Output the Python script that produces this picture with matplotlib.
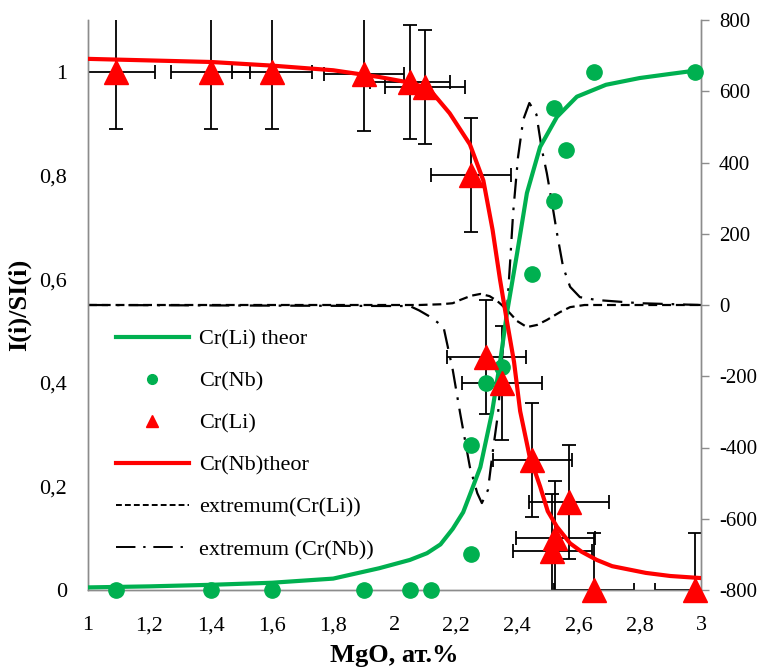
import matplotlib
matplotlib.use("Agg")
import matplotlib.pyplot as plt
from matplotlib.lines import Line2D
from matplotlib.ticker import FuncFormatter, MultipleLocator

plt.rcParams['font.family'] = ['Liberation Serif', 'DejaVu Serif']
plt.rcParams['axes.unicode_minus'] = False

# ---- data ----
# experimental points, Cr(Li) (red triangles) with error bars
x_li = [1.09, 1.40, 1.60, 1.90, 2.05, 2.10, 2.25, 2.30, 2.35, 2.45, 2.57, 2.525, 2.515, 2.65, 2.98]
y_li = [1.00, 1.00, 1.00, 0.995, 0.98, 0.97, 0.80, 0.45, 0.40, 0.25, 0.17, 0.10, 0.075, 0.0, 0.0]
xerr_li = 0.13
yerr_li = 0.11

# experimental points, Cr(Nb) (green circles)
x_nb = [1.09, 1.40, 1.60, 1.90, 2.05, 2.12, 2.25, 2.25, 2.30, 2.35, 2.45, 2.52, 2.56, 2.52, 2.65, 2.98]
y_nb = [0, 0, 0, 0, 0, 0, 0.07, 0.28, 0.40, 0.43, 0.61, 0.75, 0.85, 0.93, 1.0, 1.0]

# theoretical curves
x_li_th = [1.0, 1.2, 1.4, 1.6, 1.8, 1.95, 2.05, 2.106, 2.15, 2.19, 2.224, 2.25, 2.28, 2.318,
           2.344, 2.367, 2.40, 2.432, 2.475, 2.53, 2.595, 2.69, 2.8, 2.9, 2.99]
y_li_th = [0.005, 0.007, 0.010, 0.014, 0.022, 0.042, 0.058, 0.071, 0.088, 0.118, 0.15, 0.19, 0.237, 0.342,
           0.438, 0.535, 0.65, 0.766, 0.855, 0.913, 0.952, 0.975, 0.988, 0.996, 1.003]

x_nb_th = [1.0, 1.2, 1.4, 1.6, 1.8, 1.95, 2.06, 2.116, 2.18, 2.246, 2.29, 2.32, 2.344, 2.365,
           2.39, 2.41, 2.44, 2.475, 2.50, 2.53, 2.573, 2.61, 2.66, 2.71, 2.82, 2.9, 3.0]
y_nb_th = [1.025, 1.022, 1.019, 1.012, 1.003, 0.99, 0.978, 0.965, 0.92, 0.86, 0.79, 0.695, 0.60, 0.525,
           0.44, 0.345, 0.26, 0.20, 0.152, 0.122, 0.09, 0.074, 0.058, 0.046, 0.033, 0.027, 0.023]

# extrema (right axis)
x_ext_li = [1.0, 2.08, 2.15, 2.19, 2.214, 2.25, 2.28, 2.31, 2.334, 2.35, 2.367, 2.40, 2.432,
            2.465, 2.497, 2.54, 2.573, 2.62, 2.7, 3.0]
y_ext_li = [0, 0, 2, 5, 14, 26, 31, 25, 12, 0, -14, -45, -62, -56, -42, -20, -6, 0, 0, 0]

x_ext_nb = [1.0, 2.05, 2.08, 2.12, 2.16, 2.19, 2.214, 2.246, 2.27, 2.285, 2.305, 2.32, 2.338, 2.35,
            2.36, 2.367, 2.377, 2.387, 2.403, 2.42, 2.44, 2.463, 2.48, 2.497, 2.514, 2.53, 2.55,
            2.573, 2.605, 2.66, 2.8, 3.0]
y_ext_nb = [0, -3, -15, -35, -62, -182, -303, -455, -528, -556, -519, -415, -303, -163,
            -51, -14, 118, 258, 415, 520, 567, 535, 440, 370, 286, 202, 107,
            51, 22, 14, 5, 0]

green = '#00B050'
red = '#FF0000'
grey = '#8c8c8c'

fig = plt.figure(figsize=(7.62, 6.7), dpi=100)
ax = fig.add_axes([88/762, 80/670, 613/762, 570/670])
ax2 = ax.twinx()
ax.set_zorder(ax2.get_zorder() + 1)
ax.patch.set_visible(False)

# right axis curves
ax2.plot(x_ext_li, y_ext_li, color='black', lw=1.6, linestyle=(0, (4, 2.2)))
ax2.plot(x_ext_nb, y_ext_nb, color='black', lw=1.6, linestyle=(0, (9, 4, 1.2, 4)))

# left axis
ax.errorbar(x_li, y_li, xerr=xerr_li, yerr=yerr_li, fmt='none', ecolor='black',
            elinewidth=1.3, capsize=5, capthick=1.3, zorder=2)
ax.plot(x_li_th, y_li_th, color=green, lw=3, zorder=3)
ax.plot(x_nb_th, y_nb_th, color=red, lw=3, zorder=3)
ax.plot(x_nb, y_nb, 'o', color=green, ms=11, zorder=4, clip_on=False)
ax.plot(x_li, y_li, '^', color=red, ms=17, zorder=4, clip_on=False)

ax.set_xlim(1, 3)
ax.set_ylim(0, 1.1)
ax2.set_ylim(-800, 800)

comma = FuncFormatter(lambda v, p: f"{v:g}".replace('.', ','))
ax.xaxis.set_major_locator(MultipleLocator(0.2))
ax.yaxis.set_major_locator(MultipleLocator(0.2))
ax.xaxis.set_major_formatter(comma)
ax.yaxis.set_major_formatter(comma)
ax2.yaxis.set_major_locator(MultipleLocator(200))

ax.tick_params(axis='x', length=0, pad=19, labelsize=16)
ax.tick_params(axis='y', length=0, pad=15, labelsize=16)
ax2.tick_params(axis='y', length=6, width=1, color=grey, pad=7, labelsize=15)

for a in (ax, ax2):
    a.spines['top'].set_visible(False)
    for s in ('left', 'right', 'bottom'):
        a.spines[s].set_color(grey)
        a.spines[s].set_linewidth(1)

ax.set_xlabel('MgO, ат.%', fontsize=19, fontweight='bold', labelpad=6)
ax.set_ylabel('I(i)/SI(i)', fontsize=19, fontweight='bold', labelpad=6)

handles = [
    Line2D([], [], color=green, lw=3),
    Line2D([], [], color=green, marker='o', ls='none', ms=7),
    Line2D([], [], color=red, marker='^', ls='none', ms=9),
    Line2D([], [], color=red, lw=3),
    Line2D([], [], color='black', lw=1.4, linestyle=(0, (3, 1.6))),
    Line2D([], [], color='black', lw=1.4, linestyle=(0, (10, 4, 1.2, 4))),
]
labels = ['Cr(Li) theor', 'Cr(Nb)', 'Cr(Li)', 'Cr(Nb)theor',
          'extremum(Cr(Li))', 'extremum (Cr(Nb))']
ax.legend(handles, labels, loc='upper left', bbox_to_anchor=(0.045, 0.458),
          frameon=False, fontsize=16, handlelength=3.3, handletextpad=0.45,
          labelspacing=0.97, borderpad=0, borderaxespad=0)

fig.savefig('out.png', dpi=100)
